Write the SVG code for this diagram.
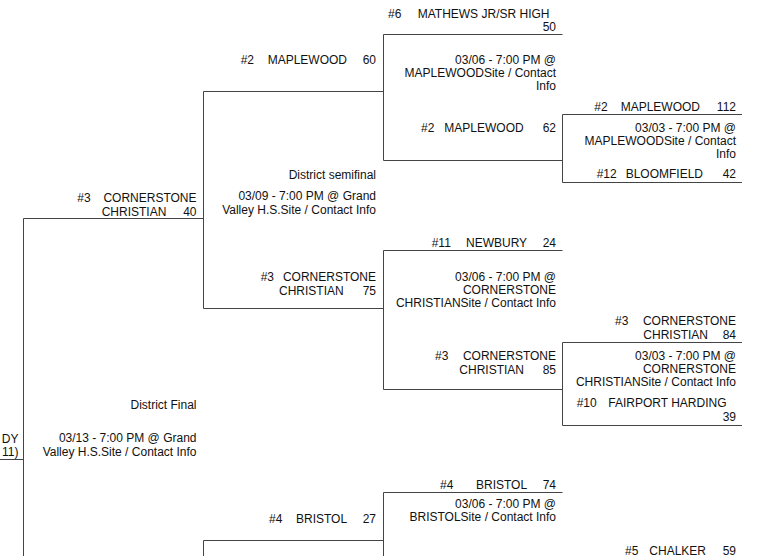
<svg xmlns="http://www.w3.org/2000/svg" width="759" height="556" viewBox="0 0 759 556">
<style>
text{font-family:"Liberation Sans",Arial,sans-serif;font-size:12px;fill:#111}
.e{text-anchor:end}
.ln{stroke:#444;stroke-width:1;fill:none}
</style>
<rect width="759" height="556" fill="#fff"/>
<g id="connectors">
<path class="ln" d="M383.5 34.5H562.5M383.5 34.5V160.5H562.5"/>
<path class="ln" d="M203.5 91.5H383.5M203.5 91.5V308.5H383.5"/>
<path class="ln" d="M562.5 114.5H742M562.5 114.5V182.5H742"/>
<path class="ln" d="M23.5 218.5H203.5M23.5 218.5V556"/>
<path class="ln" d="M383.5 250.5H562.5M383.5 250.5V389.5H562.5"/>
<path class="ln" d="M562.5 342.5H742M562.5 342.5V425.5H742"/>
<path class="ln" d="M0 459.5H23.5"/>
<path class="ln" d="M383.5 492.5H562.5M383.5 492.5V556"/>
<path class="ln" d="M203.5 540.5H383.5M203.5 540.5V556"/>
</g>
<g id="match-r2a">
<text x="388" y="18">#6</text><text x="417.7" y="18">MATHEWS JR/SR HIGH</text><text class="e" x="556" y="31">50</text>
<text class="e" x="556" y="64">03/06 - 7:00 PM @</text>
<text class="e" x="556" y="77">MAPLEWOODSite / Contact</text>
<text class="e" x="556" y="90">Info</text>
<text x="421" y="131.5">#2</text><text x="444.3" y="131.5">MAPLEWOOD</text><text class="e" x="556" y="131.5">62</text>
</g>
<g id="match-sfa">
<text x="240.7" y="64">#2</text><text x="267.7" y="64">MAPLEWOOD</text><text class="e" x="376" y="64">60</text>
<text class="e" x="376" y="179">District semifinal</text>
<text class="e" x="376" y="200">03/09 - 7:00 PM @ Grand</text>
<text class="e" x="376" y="213.5">Valley H.S.Site / Contact Info</text>
<text x="260.7" y="281">#3</text><text class="e" x="376" y="281">CORNERSTONE</text>
<text x="279" y="294.5">CHRISTIAN</text><text class="e" x="376" y="294.5">75</text>
</g>
<g id="match-r1a">
<text x="594.3" y="110.5">#2</text><text x="620.7" y="110.5">MAPLEWOOD</text><text class="e" x="736" y="110.5">112</text>
<text class="e" x="736" y="131.5">03/03 - 7:00 PM @</text>
<text class="e" x="736" y="144.5">MAPLEWOODSite / Contact</text>
<text class="e" x="736" y="157.5">Info</text>
<text x="596.7" y="178">#12</text><text x="625.7" y="178">BLOOMFIELD</text><text class="e" x="736" y="178">42</text>
</g>
<g id="match-final">
<text x="77.3" y="202">#3</text><text class="e" x="196.5" y="202">CORNERSTONE</text>
<text x="101.7" y="215.5">CHRISTIAN</text><text class="e" x="196.5" y="215.5">40</text>
<text class="e" x="196.5" y="409">District Final</text>
<text class="e" x="196.5" y="442">03/13 - 7:00 PM @ Grand</text>
<text class="e" x="196.5" y="455.5">Valley H.S.Site / Contact Info</text>
</g>
<g id="champion">
<text class="e" x="18.5" y="443">DY</text>
<text class="e" x="18.5" y="456">11)</text>
</g>
<g id="match-r2b">
<text x="431.7" y="247">#11</text><text x="466" y="247">NEWBURY</text><text class="e" x="556" y="247">24</text>
<text class="e" x="556" y="281">03/06 - 7:00 PM @</text>
<text class="e" x="556" y="294">CORNERSTONE</text>
<text class="e" x="556" y="307">CHRISTIANSite / Contact Info</text>
<text x="435" y="360">#3</text><text class="e" x="556" y="360">CORNERSTONE</text>
<text x="459.3" y="373.5">CHRISTIAN</text><text class="e" x="556" y="373.5">85</text>
</g>
<g id="match-r1b">
<text x="615" y="325">#3</text><text class="e" x="736" y="325">CORNERSTONE</text>
<text x="643.3" y="338.5">CHRISTIAN</text><text class="e" x="736" y="338.5">84</text>
<text class="e" x="736" y="360">03/03 - 7:00 PM @</text>
<text class="e" x="736" y="373">CORNERSTONE</text>
<text class="e" x="736" y="386">CHRISTIANSite / Contact Info</text>
<text x="576.7" y="407">#10</text><text x="608.3" y="407">FAIRPORT HARDING</text>
<text class="e" x="736" y="420.5">39</text>
</g>
<g id="match-r2c">
<text x="440" y="489">#4</text><text x="476" y="489">BRISTOL</text><text class="e" x="556" y="489">74</text>
<text class="e" x="556" y="508">03/06 - 7:00 PM @</text>
<text class="e" x="556" y="521">BRISTOLSite / Contact Info</text>
</g>
<g id="match-sfc">
<text x="269" y="523">#4</text><text x="296" y="523">BRISTOL</text><text class="e" x="376" y="523">27</text>
</g>
<g id="match-r1c">
<text x="625" y="554.5">#5</text><text x="649.3" y="554.5">CHALKER</text><text class="e" x="736" y="554.5">59</text>
</g>
</svg>
